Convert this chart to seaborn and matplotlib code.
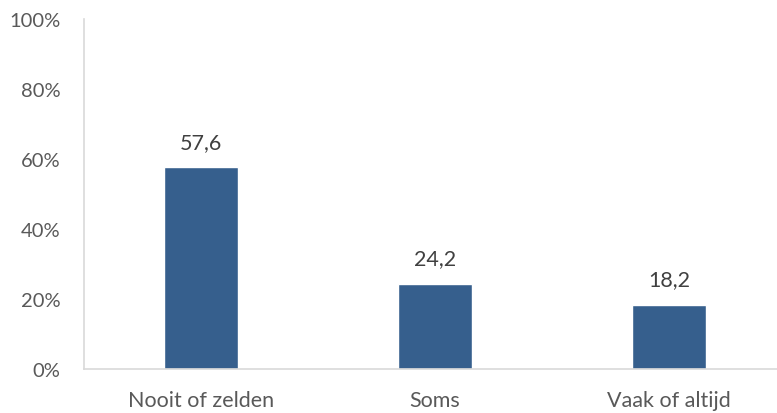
import matplotlib.pyplot as plt
import seaborn as sns
import pandas as pd

categories = ["Nooit of zelden", "Soms", "Vaak of altijd"]
values = [57.6, 24.2, 18.2]
yticks = [0, 20, 40, 60, 80, 100]

sns.set_style("white")
plt.rcParams["font.family"] = ["Lato", "DejaVu Sans"]

df = pd.DataFrame({"cat": categories, "val": values})

fig = plt.figure(figsize=(7.77, 4.14), dpi=100)
ax = fig.add_axes([84 / 777, 44 / 414, 702 / 777, 350 / 414])
sns.barplot(data=df, x="cat", y="val", color="#365F8D", width=0.315, saturation=1, ax=ax)

ax.set_ylim(0, 100)
ax.set_xlim(-0.5, 2.5)
ax.set_yticks(yticks)
ax.set_yticklabels([f"{t}%" for t in yticks])
ax.set_xlabel("")
ax.set_ylabel("")
ax.tick_params(axis="both", length=0, labelcolor="#595959")
ax.tick_params(axis="x", pad=15, labelsize=15.5)
ax.tick_params(axis="y", pad=17, labelsize=14.5)

for side in ["top", "right"]:
    ax.spines[side].set_visible(False)
for side in ["left", "bottom"]:
    ax.spines[side].set_color("#D9D9D9")
    ax.spines[side].set_linewidth(1.2)

for i, v in enumerate(values):
    ax.text(i, v + 4.5, f"{v:.1f}".replace(".", ","), ha="center", va="bottom", fontsize=15.5, color="#404040")

fig.savefig("out.png", dpi=100)
